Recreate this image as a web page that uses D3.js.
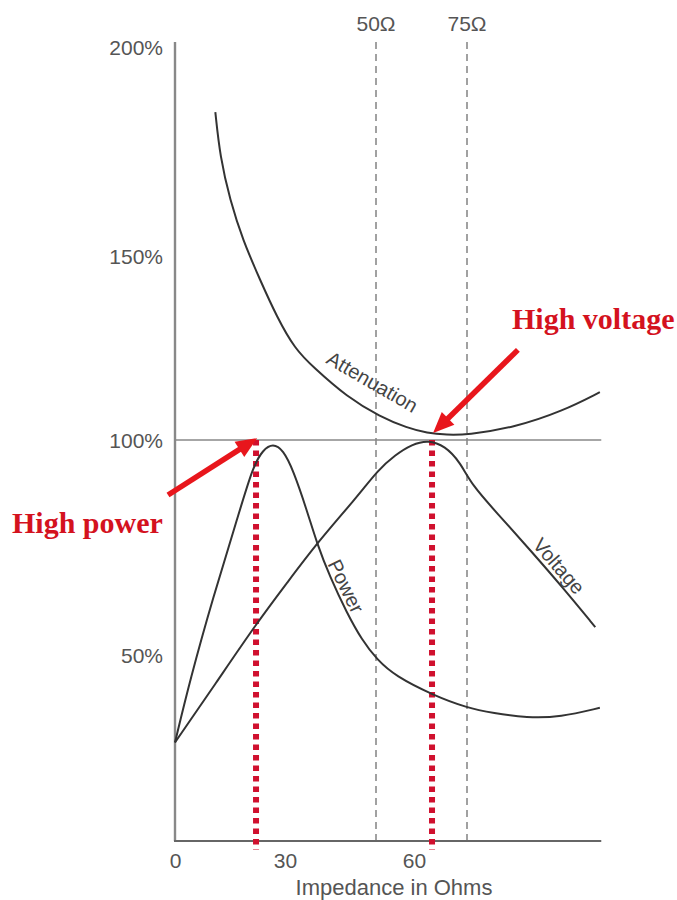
<!DOCTYPE html>
<html><head><meta charset="utf-8">
<script src="https://cdn.jsdelivr.net/npm/d3@7"></script>
<style>body{margin:0;background:#fff} svg{display:block}</style>
</head><body><svg id="c" width="677" height="900"></svg>
<script>
// ---- data (impedance in ohms, level in %) ----
const attenX = [11, 12.3, 15, 18.5, 23.2, 27.8, 32.2, 36.2, 43.6, 51.1, 58.2, 63.7, 69.3, 75, 88, 102.2, 112.6];
const attenY = [184.4, 173.7, 163.4, 153.8, 143.5, 133.4, 124.7, 119.8, 111.7, 106.3, 103.3, 101.9, 101.4, 101.4, 103.3, 107.9, 113.0];
const powerX = [0, 4.1, 10.4, 16.9, 21.3, 24.0, 26.7, 29.5, 31.8, 34.8, 37.0, 39.9, 43.6, 46.9, 50.3, 55.0, 65.4, 75, 82.4, 92.0, 101.4, 112.6];
const powerY = [26.5, 43.3, 63.5, 81.4, 94.0, 97.7, 99.2, 97.7, 93.0, 83.7, 76.0, 68.1, 59.8, 53.5, 48.7, 44.4, 39.2, 35.8, 34.4, 33.1, 33.3, 35.8];
const voltX = [0, 11.2, 22.1, 30.4, 37.0, 45.8, 50.5, 55.0, 59.5, 64.0, 68.8, 73.0, 76.4, 83.5, 92.9, 102.2, 111.3];
const voltY = [26.5, 42.5, 57.2, 66.7, 76.0, 86.7, 93.0, 96.5, 99.0, 100.0, 98.6, 94.9, 89.5, 83.0, 74.4, 65.6, 56.5];
const yTicks = [50, 100, 150, 200];
const yTickLabels = ["50%", "100%", "150%", "200%"];
const xTicks = [0, 30, 60];
const xTickLabels = ["0", "30", "60"];
const refOhms = [50, 75];
const refLabels = ["50\u03A9", "75\u03A9"];
const curveNames = ["Attenuation", "Power", "Voltage"];
const curveLabelX = [49.2, 43.4, 101.0];
const curveLabelY = [115.8, 66.0, 70.7];
const curveLabelAngle = [30, 64, 49];
const highPowerOhm = 22.1, highVoltageOhm = 65.1;
const arrowFrom = [[-1.9, 87.2], [89.4, 124.5]];
const arrowTo = [[22.4, 100.5], [65.4, 101.9]];
const annotTexts = ["High power", "High voltage"];

// ---- scales ----
const x = d3.scaleLinear().domain([0, 30, 50, 60, 75]).range([175, 285, 376, 414, 467]);
const y = d3.scaleLinear().domain([0, 50, 100, 150, 200]).range([841, 655, 440, 256, 47]);
const xMax = 113, yMax = 201.2;

const svg = d3.select("#c");
const sans = "'Liberation Sans', Arial, Helvetica, sans-serif";

// reference dashed lines
svg.append("g").selectAll("line").data(refOhms).join("line")
  .attr("x1", d => x(d)).attr("x2", d => x(d))
  .attr("y1", y(yMax)).attr("y2", y(0))
  .attr("stroke", "#8a8a8a").attr("stroke-width", 1.6).attr("stroke-dasharray", "7,5");
svg.append("g").selectAll("text").data(refOhms).join("text")
  .attr("x", d => x(d)).attr("y", 31).attr("text-anchor", "middle")
  .attr("font-family", sans).attr("font-size", 21).attr("fill", "#555")
  .text((d, i) => refLabels[i]);

// 100% line
svg.append("line").attr("x1", x(0)).attr("x2", x(xMax)).attr("y1", y(100)).attr("y2", y(100))
  .attr("stroke", "#888").attr("stroke-width", 1.6);

// axes lines
svg.append("line").attr("x1", x(0)).attr("x2", x(0)).attr("y1", y(0)).attr("y2", y(yMax))
  .attr("stroke", "#888").attr("stroke-width", 2.4);
svg.append("line").attr("x1", x(0) - 1).attr("x2", x(xMax)).attr("y1", y(0)).attr("y2", y(0))
  .attr("stroke", "#666").attr("stroke-width", 2.2);

// tick labels via d3 axes
const gy = svg.append("g").attr("transform", `translate(${x(0) - 12},0)`)
  .call(d3.axisLeft(y).tickValues(yTicks).tickSize(0).tickFormat((d, i) => yTickLabels[i]));
gy.select(".domain").remove();
gy.selectAll("text").attr("font-family", sans).attr("font-size", 21).attr("fill", "#555").attr("dy", "0.35em").attr("x", 0);

const gx = svg.append("g").attr("transform", `translate(0,${y(0) + 12})`)
  .call(d3.axisBottom(x).tickValues(xTicks).tickSize(0).tickFormat((d, i) => xTickLabels[i]));
gx.select(".domain").remove();
gx.selectAll("text").attr("font-family", sans).attr("font-size", 21).attr("fill", "#555").attr("dy", "0.71em").attr("y", 0);

svg.append("text").attr("x", 394).attr("y", 895).attr("text-anchor", "middle")
  .attr("font-family", sans).attr("font-size", 22).attr("fill", "#555").text("Impedance in Ohms");

// red dotted lines
svg.append("g").selectAll("line").data([highPowerOhm, highVoltageOhm]).join("line")
  .attr("x1", d => x(d)).attr("x2", d => x(d))
  .attr("y1", y(100)).attr("y2", y(0) + 9)
  .attr("stroke", "#d0102e").attr("stroke-width", 6).attr("stroke-dasharray", "5.5,5");

// curves
const line = d3.line().x(d => x(d[0])).y(d => y(d[1])).curve(d3.curveBasis);
const series = [
  d3.zip(attenX, attenY),
  d3.zip(powerX, powerY),
  d3.zip(voltX, voltY)
];
svg.append("g").selectAll("path").data(series).join("path")
  .attr("d", line).attr("fill", "none").attr("stroke", "#333").attr("stroke-width", 2);

// curve labels
svg.append("g").selectAll("text").data(curveNames).join("text")
  .attr("transform", (d, i) => `translate(${x(curveLabelX[i])},${y(curveLabelY[i])}) rotate(${curveLabelAngle[i]})`)
  .attr("text-anchor", "middle").attr("dy", "0.35em")
  .attr("font-family", sans).attr("font-size", 20).attr("fill", "#444").text(d => d);

// arrows
const red = "#e8161c";
arrowFrom.forEach((f, i) => {
  const x1 = x(f[0]), y1 = y(f[1]), x2 = x(arrowTo[i][0]), y2 = y(arrowTo[i][1]);
  const dx = x2 - x1, dy = y2 - y1, L = Math.hypot(dx, dy), ux = dx / L, uy = dy / L;
  const hl = 21, hw = 9;
  const bx = x2 - ux * hl, by = y2 - uy * hl;
  svg.append("line").attr("x1", x1).attr("y1", y1).attr("x2", bx + ux * 2).attr("y2", by + uy * 2)
    .attr("stroke", red).attr("stroke-width", 5.5);
  svg.append("path").attr("d", `M${x2},${y2}L${bx - uy * hw},${by + ux * hw}L${bx + uy * hw},${by - ux * hw}Z`)
    .attr("fill", red);
});

// annotation texts
const serif = "'Liberation Serif', 'Times New Roman', serif";
svg.append("text").attr("x", 12).attr("y", 533).attr("font-family", serif).attr("font-weight", "bold")
  .attr("font-size", 30).attr("fill", "#d4121e").text(annotTexts[0]);
svg.append("text").attr("x", 512).attr("y", 329).attr("font-family", serif).attr("font-weight", "bold")
  .attr("font-size", 30).attr("fill", "#d4121e").text(annotTexts[1]);
</script>
</body></html>
